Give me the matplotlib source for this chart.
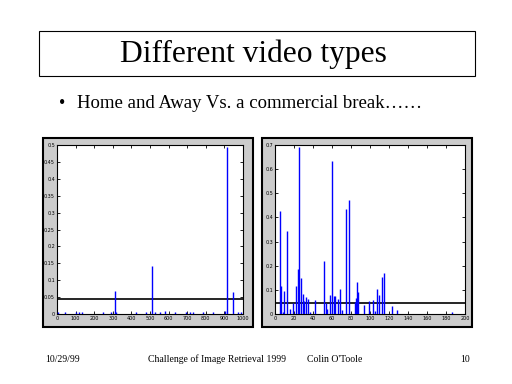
import numpy as np
import matplotlib
matplotlib.use("Agg")
import matplotlib.pyplot as plt
from matplotlib.patches import Rectangle

# Home and Away: tall spikes (frame index, value)
left_spike_x = [314, 511, 914, 948]
left_spike_y = [0.069, 0.141, 0.495, 0.066]
# small bumps along the floor
left_bump_x = [5, 41, 100, 118, 136, 247, 289, 319, 427, 477, 525, 552, 579,
               633, 695, 717, 731, 785, 839, 901, 973, 991]
left_bump_y = [0.006, 0.005, 0.006, 0.007, 0.007, 0.005, 0.005, 0.006, 0.005,
               0.006, 0.007, 0.006, 0.009, 0.007, 0.005, 0.007, 0.007, 0.005,
               0.006, 0.010, 0.006, 0.005]
# runs of near-zero values (start, end)
left_floor_start = [0, 32, 59, 86, 167, 247, 355, 418, 462, 991]
left_floor_end = [23, 50, 77, 149, 229, 337, 409, 444, 982, 1000]
left_floor_h = 0.004
left_thresh = 0.044

# commercial break
right_spike_x = [5.3, 6.3, 8.5, 9.5, 12.6, 15.8, 19.0, 22.1, 23.9, 25.3, 27.4,
                 29.5, 30.5, 32.6, 34.7, 37.0, 42.1, 51.6, 53.7, 54.7, 57.9,
                 59.6, 62.1, 63.2, 66.3, 68.4, 70.9, 74.4, 77.9, 83.9, 84.9,
                 86.3, 87.4, 93.7, 98.9, 103.2, 105.3, 107.4, 109.5, 112.6,
                 114.7, 123.2, 128.4, 186.0]
right_spike_y = [0.427, 0.114, 0.008, 0.096, 0.344, 0.022, 0.045, 0.117, 0.187,
                 0.693, 0.150, 0.084, 0.052, 0.072, 0.063, 0.008, 0.059, 0.220,
                 0.045, 0.022, 0.080, 0.634, 0.073, 0.073, 0.063, 0.105, 0.018,
                 0.435, 0.473, 0.051, 0.068, 0.134, 0.090, 0.039, 0.055, 0.059,
                 0.011, 0.103, 0.080, 0.152, 0.171, 0.032, 0.018, 0.009]
right_floor_start = [3.5, 40, 45, 52, 136, 143, 176, 185]
right_floor_end = [38, 43, 50, 133, 140, 171, 182, 199]
right_floor_h = 0.006
right_thresh = 0.046

left_yticks = np.arange(0, 0.501, 0.05)
left_xticks = np.arange(0, 1001, 100)
right_yticks = np.arange(0, 0.701, 0.1)
right_xticks = np.arange(0, 201, 20)

W, H = 512, 384
serif = "Liberation Serif"


def box(px, py, w, h):
    # pixel box (top-left origin) -> figure fraction
    return [px / W, 1 - (py + h) / H, w / W, h / H]


fig = plt.figure(figsize=(5.12, 3.84), dpi=100)
fig.patch.set_facecolor("white")

# title box
fig.add_artist(Rectangle((39 / W, 1 - 76 / H), 436 / W, 45 / H,
                         transform=fig.transFigure, facecolor="white",
                         edgecolor="black", lw=0.8, zorder=-2))
fig.text(253 / W, 1 - 54 / H, "Different video types", family=serif,
         fontsize=22.7, ha="center", va="center")
fig.text(62 / W, 1 - 104 / H, "\u2022", family=serif, fontsize=13,
         ha="center", va="center")
fig.text(77 / W, 1 - 104 / H, "Home and Away Vs. a commercial break\u2026\u2026",
         family=serif, fontsize=13.5, ha="left", va="center")

# grey panels behind the plots
for px in (43, 262):
    fig.add_artist(Rectangle((px / W, 1 - 327 / H), 210 / W, 189 / H,
                             transform=fig.transFigure, facecolor="#cccccc",
                             edgecolor="black", lw=1.5, zorder=-2))


def setup(ax, xlim, ylim, xt, yt):
    ax.set_xlim(*xlim)
    ax.set_ylim(*ylim)
    ax.set_xticks(xt)
    ax.set_yticks(yt)
    ax.set_xticklabels([f"{v:g}" for v in xt])
    ax.set_yticklabels([f"{v:g}" for v in yt])
    ax.tick_params(direction="in", top=True, right=True, length=2, width=0.6,
                   labelsize=3.5, pad=1.5)
    for s in ax.spines.values():
        s.set_linewidth(0.8)


ax1 = fig.add_axes(box(57, 145, 186, 169))
ax1.bar(left_floor_start, np.subtract(left_floor_end, left_floor_start),
        left_floor_h, align="edge", color="blue", lw=0, zorder=3)
ax1.vlines(left_bump_x, 0, left_bump_y, color="blue", lw=1, zorder=3)
ax1.vlines(left_spike_x, 0, left_spike_y, color="blue", lw=1, zorder=3)
ax1.axhline(left_thresh, color="black", lw=1.2, zorder=2)
setup(ax1, (0, 1000), (0, 0.5), left_xticks, left_yticks)

ax2 = fig.add_axes(box(275, 145, 190, 169))
ax2.bar(right_floor_start, np.subtract(right_floor_end, right_floor_start),
        right_floor_h, align="edge", color="blue", lw=0, zorder=3)
ax2.vlines(right_spike_x, 0, right_spike_y, color="blue", lw=1, zorder=3)
ax2.axhline(right_thresh, color="black", lw=1.2, zorder=2)
setup(ax2, (0, 200), (0, 0.7), right_xticks, right_yticks)

# footer
fy = 1 - 359 / H
fig.text(45 / W, fy, "10/29/99", family=serif, fontsize=7, va="center")
fig.text(148 / W, fy, "Challenge of Image Retrieval 1999", family=serif,
         fontsize=7, va="center")
fig.text(307 / W, fy, "Colin O'Toole", family=serif, fontsize=7, va="center")
fig.text(460 / W, fy, "10", family=serif, fontsize=7, va="center")

fig.savefig("out.png", dpi=100)
